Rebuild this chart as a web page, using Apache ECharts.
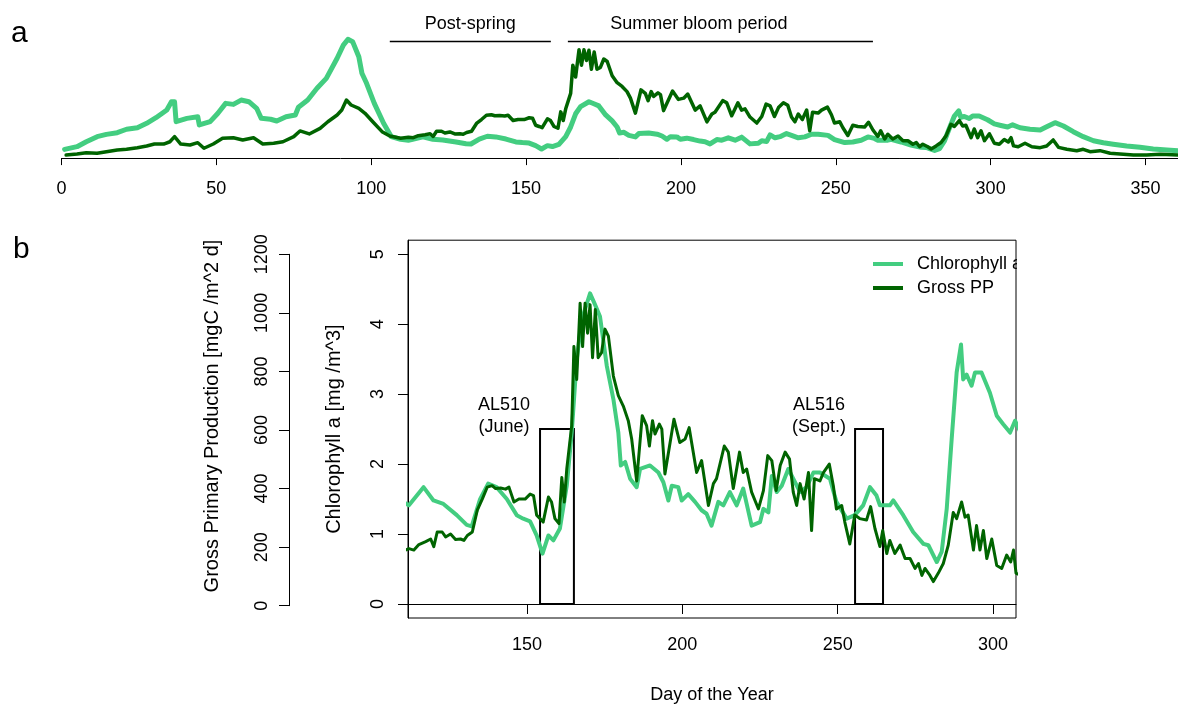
<!DOCTYPE html>
<html>
<head>
<meta charset="utf-8">
<title>Chlorophyll a and gross primary production</title>
<script src="https://cdn.jsdelivr.net/npm/echarts@6.0.0/dist/echarts.min.js"></script>
<style>
  html, body { margin: 0; padding: 0; background: #fff; }
  #main { width: 1178px; height: 709px; }
</style>
</head>
<body>
<div id="main"></div>
<script>
// day of year / chlorophyll a [mg m^-3]
const chlDays = [
  1, 5, 8, 11.5, 14.5, 18, 21, 24.5, 27.5, 30.5,
  34, 35.5, 36.5, 37, 40.5, 44, 44.5, 48, 50.5, 53,
  55.5, 58, 60.5, 63, 64.5, 67.5, 69.5, 72.5, 75.5, 76.5,
  79.5, 82.5, 85.5, 89, 91, 92.5, 94, 96, 97, 98.5,
  101, 104, 106.5, 109.5,
  112, 116.7, 119.9, 123.1, 127.4, 130.6, 132.2, 134.9, 137.5, 140.2,
  143.5, 146.7, 148.8, 151, 153.1, 155, 156.9, 158.5, 160.6, 162.8,
  164.4, 166, 167.6, 170.3, 171.9, 173.5, 175.7, 177.8, 179.4, 180.2,
  181.6, 183.2, 185.3, 186.4, 189.6, 192.3, 193.9, 195.5, 196.6, 198.7,
  199.8, 201.9, 204.1, 206.2, 207.8, 209.4, 211.6, 213.2, 215.3, 217.5,
  219.6, 222.3, 225, 226.1, 227.7, 228.8, 230.4, 232, 234.1, 235.7,
  237.9, 240, 242.2, 244.3, 247.5, 249.6, 252.9, 255.5, 258.2, 260.4,
  262.5, 263.6, 266.8, 267.9, 271.1, 274.3, 277.6, 279.2, 281.9, 283.5,
  285.1, 286.7, 288.3, 289.7, 290.4, 291.5, 293.1, 294.2, 296.3, 299,
  301.2, 303.3, 305.5, 307.1,
  309.5, 312.7, 316, 318.1, 320.8, 323.5, 326.7, 329.9, 333.2, 336.4,
  339.6, 343.9, 348.2, 352.5, 356.9, 360.5
]
const chlValues = [
  0.69, 0.90, 1.29, 1.69, 1.87, 2.00, 2.27, 2.39, 2.74, 3.18,
  3.79, 4.44, 4.44, 2.87, 3.13, 3.26, 2.61, 2.87, 3.53, 4.31,
  4.23, 4.57, 4.44, 3.92, 3.13, 3.06, 2.92, 3.26, 3.39, 4.00,
  4.57, 5.50, 6.28, 7.86, 8.90, 9.35, 9.17, 7.98, 6.68, 5.89,
  4.31, 2.74, 1.69, 1.48,
  1.41, 1.67, 1.48, 1.43, 1.27, 1.13, 1.11, 1.50, 1.72, 1.67,
  1.50, 1.27, 1.22, 1.18, 0.98, 0.72, 0.98, 0.91, 1.08, 1.69,
  2.45, 3.49, 4.06, 4.44, 4.28, 4.11, 3.40, 2.93, 2.45, 1.98,
  2.03, 1.79, 1.67, 1.93, 1.98, 1.88, 1.74, 1.48, 1.69, 1.67,
  1.48, 1.57, 1.46, 1.34, 1.29, 1.12, 1.46, 1.41, 1.60, 1.41,
  1.65, 1.12, 1.17, 1.36, 1.31, 1.83, 1.60, 1.69, 1.93, 1.79,
  1.60, 1.67, 1.88, 1.88, 1.79, 1.46, 1.22, 1.27, 1.41, 1.67,
  1.55, 1.41, 1.41, 1.48, 1.27, 1.03, 0.86, 0.84, 0.60, 0.75,
  1.36, 2.36, 3.31, 3.71, 3.21, 3.28, 3.12, 3.31, 3.31, 3.02,
  2.69, 2.57, 2.45, 2.62,
  2.39, 2.27, 2.21, 2.47, 2.79, 2.53, 2.08, 1.69, 1.37, 1.21,
  1.09, 0.95, 0.85, 0.72, 0.64, 0.58
]

// day of year / gross primary production [mgC m^-2 d^-1]
const gppDays = [
  1.5, 5, 8, 11.5, 14.5, 18, 21, 24.5, 27.5, 30,
  33, 35, 36.5, 38.5, 41.5, 44, 46, 49, 52, 55.5,
  58.5, 62, 65, 68.5, 71.5, 75, 77, 80, 83.5, 86,
  89, 90.5, 92, 93.5, 96, 98, 100.5, 103.5, 106, 109.5,
  112, 113.6, 115.2, 117.4, 119, 120, 121.1, 122.7, 123.8, 125.4,
  127, 128.6, 129.7, 130.8, 132.4, 134, 135.6, 137.2, 138.8, 139.9,
  141.5, 143.1, 144.2, 145.8, 147.4, 149.4, 151, 152.1, 153.1, 154.2,
  155.2, 156.9, 157.9, 159, 160.3, 161.2, 162, 162.8, 164.4, 165.1,
  166, 167.1, 167.9, 168.7, 169.5, 170.3, 171.1, 172, 172.9, 174,
  175.1, 176.2, 177.8, 179.4, 181, 182.6, 183.7, 185.3, 187.1, 188.5,
  189.4, 190.4, 191.2, 192.6, 193.4, 194.4, 197.3, 199.2, 200.9, 202.2,
  204.6, 206.2, 208.4, 210, 211, 213.5, 214.8, 216.4, 218.4, 219.6,
  220.7, 222.3, 224.5, 226.1, 227.5, 228.8, 230.2, 231.5, 233.1, 234.5,
  235.7, 236.8, 237.9, 239.2, 240.6, 241.6, 242.5, 244.3, 245.4, 247.3,
  248.6, 249.6, 251.3, 252.3, 253.9, 255.5, 257.1, 259.3, 260.6, 262,
  263.6, 264.5, 265.8, 266.8, 268.4, 270.1, 271.7, 273.3, 274.9, 276,
  277.1, 278.1, 279.7, 280.8, 282.4, 284, 285.6, 287.2, 288.3, 289.9,
  291, 292, 293.7, 294.7, 295.8, 296.9, 298, 299.6, 301.2, 302.8,
  304.4, 305.7, 306.6, 307.4,
  308.9, 311.1, 313.3, 316, 318.1, 320.2, 321.9, 324.6, 327.8, 329.9,
  332.1, 335.3, 338.6, 341.8, 346.1, 350.4, 354.7, 360.5
]
const gppValues = [
  18, 28, 40, 35, 50, 66, 73, 89, 105, 124,
  124, 146, 195, 124, 115, 137, 83, 124, 179, 185,
  163, 185, 124, 131, 146, 195, 250, 221, 275, 339,
  404, 452, 548, 500, 468, 420, 339, 243, 201, 179,
  190, 185, 204, 214, 223, 197, 247, 247, 230, 240,
  221, 223, 218, 235, 247, 322, 360, 401, 406, 396,
  398, 394, 401, 350, 360, 360, 377, 372, 305, 293,
  281, 367, 350, 293, 276, 434, 350, 463, 612, 883,
  770, 1032, 883, 1032, 929, 1027, 845, 1010, 845, 862,
  943, 919, 782, 715, 679, 629, 566, 422, 646, 612,
  542, 629, 583, 617, 600, 446, 634, 554, 566, 605,
  451, 492, 338, 413, 430, 542, 521, 396, 521, 451,
  463, 384, 326, 389, 509, 492, 389, 475, 521, 497,
  384, 338, 413, 360, 451, 252, 430, 422, 451, 480,
  406, 326, 338, 281, 206, 305, 293, 288, 334, 259,
  197, 252, 173, 218, 173, 202, 156, 156, 122, 139,
  98, 122, 98, 77, 106, 139, 202, 314, 293, 350,
  298, 305, 185, 269, 185, 252, 156, 223, 132, 122,
  168, 144, 185, 106,
  98, 131, 98, 89, 105, 163, 92, 73, 60, 73,
  50, 60, 35, 28, 18, 18, 25, 18
]

const yearTicks = [0, 50, 100, 150, 200, 250, 300, 350]
const zoomTicks = [150, 200, 250, 300]
const chlTicks = [0, 1, 2, 3, 4, 5]

const periodNames = ['Post-spring', 'Summer bloom period']
const periodStart = [106, 163.5]
const periodEnd = [158, 262]
const periodLabelDay = [132, 205.8]

const cruiseNames = ['AL510\n(June)', 'AL516\n(Sept.)']
const cruiseStart = [154.2, 255.6]
const cruiseEnd = [165.1, 264.6]
const cruiseTop = 2.5

const lightGreen = '#43CD80'
const darkGreen = '#006400'
const fontFamily = "'Liberation Sans', Arial, Helvetica, sans-serif"

const chlData = chlDays.map((d, i) => [d, chlValues[i]])
const gppData = gppDays.map((d, i) => [d, gppValues[i]])

const blackLine = { color: '#000', width: 1 }
const labelText = { fontSize: 18, color: '#000', fontFamily }
const titleText = { fontSize: 20, color: '#000', fontFamily }

// panel a: width of one day in pixels, used to shift a period label off centre
const yearGridWidth = 1116.5
const yearMax = 360.5
const pxPerDay = yearGridWidth / yearMax

const chart = echarts.init(document.getElementById('main'), null, { renderer: 'canvas' })

const option = {
  animation: false,
  textStyle: { fontFamily },
  grid: [
    { left: 61.5, top: 15, width: yearGridWidth, height: 147.7 },
    { left: 408, top: 240.2, width: 608, height: 379.6, show: true, borderColor: '#000', borderWidth: 1 },
    { left: 289, top: 254.3, width: 10, height: 351.4 }
  ],
  xAxis: [
    {
      gridIndex: 0, type: 'value', min: 0, max: yearMax,
      axisLine: { lineStyle: blackLine },
      axisTick: { customValues: yearTicks, length: 7, lineStyle: blackLine },
      axisLabel: { customValues: yearTicks, margin: 17, ...labelText },
      splitLine: { show: false }
    },
    {
      gridIndex: 1, type: 'value', min: 111.7, max: 307.4,
      name: 'Day of the Year', nameLocation: 'middle', nameGap: 68,
      nameTextStyle: labelText,
      axisLine: { lineStyle: blackLine },
      axisTick: { customValues: zoomTicks, length: 10, lineStyle: blackLine },
      axisLabel: { customValues: zoomTicks, margin: 18, ...labelText },
      splitLine: { show: false }
    },
    { gridIndex: 2, type: 'value', min: 0, max: 1, show: false }
  ],
  yAxis: [
    { gridIndex: 0, type: 'value', min: -0.362, max: 11.268, show: false },
    { gridIndex: 0, type: 'value', min: -55.9, max: 1367.1, show: false },
    {
      gridIndex: 1, type: 'value', min: -0.2, max: 5.2,
      name: 'Chlorophyll a [mg /m^3]', nameLocation: 'middle', nameGap: 64,
      nameTextStyle: titleText,
      axisLine: { show: true, lineStyle: blackLine },
      axisTick: { show: true, customValues: chlTicks, length: 10, lineStyle: blackLine },
      axisLabel: { customValues: chlTicks, rotate: 90, margin: 21, ...labelText },
      splitLine: { show: false }
    },
    { gridIndex: 1, type: 'value', min: -48, max: 1248, show: false },
    {
      gridIndex: 2, type: 'value', min: 0, max: 1200, interval: 200,
      name: 'Gross Primary Production [mgC /m^2 d]', nameLocation: 'middle', nameGap: 67,
      nameTextStyle: { ...titleText, padding: [0, 0, 0, 28] },
      axisLine: { show: true, lineStyle: blackLine },
      axisTick: { show: true, length: 10, lineStyle: blackLine },
      axisLabel: { rotate: 90, margin: 18, formatter: v => String(v), ...labelText },
      splitLine: { show: false }
    }
  ],
  legend: {
    data: ['Chlorophyll a', 'Gross PP'],
    orient: 'vertical',
    left: 873,
    top: 255,
    padding: 0,
    icon: 'rect',
    itemWidth: 30,
    itemHeight: 4,
    itemGap: 6,
    selectedMode: false,
    textStyle: { ...labelText, padding: [0, 0, 0, 9] }
  },
  graphic: [
    { type: 'text', left: 11, top: 19, style: { text: 'a', fontSize: 30, fill: '#000', fontFamily } },
    { type: 'text', left: 13, top: 235, style: { text: 'b', fontSize: 30, fill: '#000', fontFamily } },
    // the legend text is cut by the plot box, as in the source
    { type: 'rect', z: 100, shape: { x: 1017, y: 250, width: 30, height: 26 }, style: { fill: '#fff' } }
  ],
  series: [
    {
      name: 'Chlorophyll a (year)',
      type: 'line',
      xAxisIndex: 0,
      yAxisIndex: 0,
      data: chlData,
      symbol: 'none',
      lineStyle: { color: lightGreen, width: 5, join: 'round', cap: 'round' },
      itemStyle: { color: lightGreen },
      markLine: {
        silent: true,
        symbol: ['none', 'none'],
        lineStyle: { color: '#000', width: 1.3, type: 'solid' },
        emphasis: { disabled: true },
        label: { show: true, position: 'middle', formatter: '{b}', distance: 8, ...labelText },
        data: periodNames.map((n, i) => [
          {
            name: n,
            coord: [periodStart[i], 9.24],
            label: { offset: [(periodLabelDay[i] - (periodStart[i] + periodEnd[i]) / 2) * pxPerDay, 0] }
          },
          { coord: [periodEnd[i], 9.24] }
        ])
      }
    },
    {
      name: 'Gross PP (year)',
      type: 'line',
      xAxisIndex: 0,
      yAxisIndex: 1,
      data: gppData,
      symbol: 'none',
      lineStyle: { color: darkGreen, width: 3.5, join: 'round', cap: 'round' },
      itemStyle: { color: darkGreen }
    },
    {
      name: 'Chlorophyll a',
      type: 'line',
      xAxisIndex: 1,
      yAxisIndex: 2,
      data: chlData,
      symbol: 'none',
      lineStyle: { color: lightGreen, width: 4, join: 'round', cap: 'round' },
      itemStyle: { color: lightGreen },
      markArea: {
        silent: true,
        itemStyle: { color: 'rgba(0,0,0,0)', borderColor: '#000', borderWidth: 2 },
        emphasis: { disabled: true },
        label: {
          show: true, position: [-35, -12], align: 'center', verticalAlign: 'middle',
          lineHeight: 22, ...labelText
        },
        data: cruiseNames.map((n, i) => [
          { name: n, coord: [cruiseStart[i], 0] },
          { coord: [cruiseEnd[i], cruiseTop] }
        ])
      }
    },
    {
      name: 'Gross PP',
      type: 'line',
      xAxisIndex: 1,
      yAxisIndex: 3,
      data: gppData,
      symbol: 'none',
      lineStyle: { color: darkGreen, width: 3, join: 'round', cap: 'round' },
      itemStyle: { color: darkGreen }
    }
  ]
}

chart.setOption(option)
</script>
</body>
</html>
